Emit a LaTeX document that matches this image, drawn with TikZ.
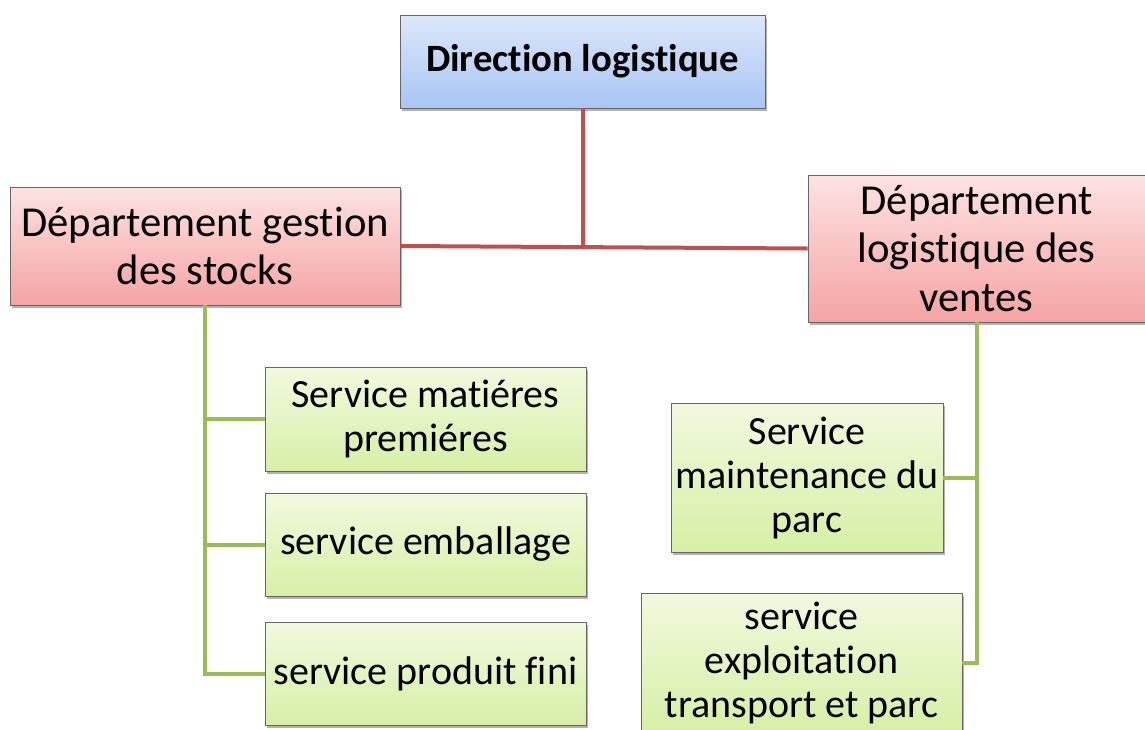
\documentclass[tikz,border=0pt]{standalone}
\usepackage{fontspec}
\setmainfont{Carlito}[Ligatures=NoCommon]
\usetikzlibrary{shadows}
\definecolor{redline}{HTML}{C0504D}
\definecolor{greenline}{HTML}{9BBB59}
\definecolor{blueTop}{HTML}{DDE7F9}
\definecolor{blueBot}{HTML}{A8C5F4}
\definecolor{redTop}{HTML}{FDE2E2}
\definecolor{redBot}{HTML}{F5A3A3}
\definecolor{greenTop}{HTML}{F1F9DE}
\definecolor{greenBot}{HTML}{D6EFA6}
\tikzset{
  box/.style={rectangle, draw=black!60, line width=0.6pt, align=center,
    inner sep=2pt, drop shadow={shadow xshift=1.5pt, shadow yshift=-2pt, opacity=0.3, fill=black}},
  bluebox/.style={box, top color=blueTop, bottom color=blueBot,
    font=\fontsize{29}{35}\selectfont\bfseries},
  redbox/.style={box, top color=redTop, bottom color=redBot,
    font=\fontsize{32}{36.5}\selectfont},
  greenbox/.style={box, top color=greenTop, bottom color=greenBot,
    font=\fontsize{30}{33}\selectfont},
  redlink/.style={draw=redline, line width=3pt},
  greenlink/.style={draw=greenline, line width=3pt},
}
\begin{document}
\begin{tikzpicture}[x=0.75pt, y=-0.75pt]
  \useasboundingbox (0,0) rectangle (1145,729);
  \clip (0,0) rectangle (1145,729);

  % management and departments
  \node[bluebox, minimum width=365*0.75pt, minimum height=93*0.75pt] (dir) at (582.5,61.5) {Direction logistique};
  \node[redbox, minimum width=390*0.75pt, minimum height=118*0.75pt] (stock) at (205,246) {Département gestion\\des stocks};
  \node[redbox, minimum width=337*0.75pt, minimum height=147*0.75pt] (vente) at (976.5,248.5) {Département\\logistique des\\ventes};

  % services under the stock department
  \node[greenbox, minimum width=321*0.75pt, minimum height=104*0.75pt] (mat) at (425.5,419) {Service matiéres\\premiéres};
  \node[greenbox, minimum width=321*0.75pt, minimum height=103*0.75pt] (emb) at (425.5,544.5) {service emballage};
  \node[greenbox, minimum width=321*0.75pt, minimum height=103*0.75pt] (fini) at (425.5,673.5) {service produit fini};

  % services under the sales department
  \node[greenbox, minimum width=272*0.75pt, minimum height=149*0.75pt] (maint) at (807,477.5) {Service\\maintenance du\\parc};
  \node[greenbox, minimum width=321*0.75pt, minimum height=140*0.75pt] (expl) at (801.5,663) {service\\exploitation\\transport et parc};

  % connectors
  \draw[redlink] (dir.south) -- (dir.south |- stock.east);
  \draw[redlink] (stock.east) -- (vente.west);

  \draw[greenlink] (stock.south) |- (fini.west);
  \draw[greenlink] (stock.south |- mat.west) -- (mat.west);
  \draw[greenlink] (stock.south |- emb.west) -- (emb.west);

  \draw[greenlink] (vente.south) |- (expl.east);
  \draw[greenlink] (vente.south |- maint.east) -- (maint.east);
\end{tikzpicture}
\end{document}
